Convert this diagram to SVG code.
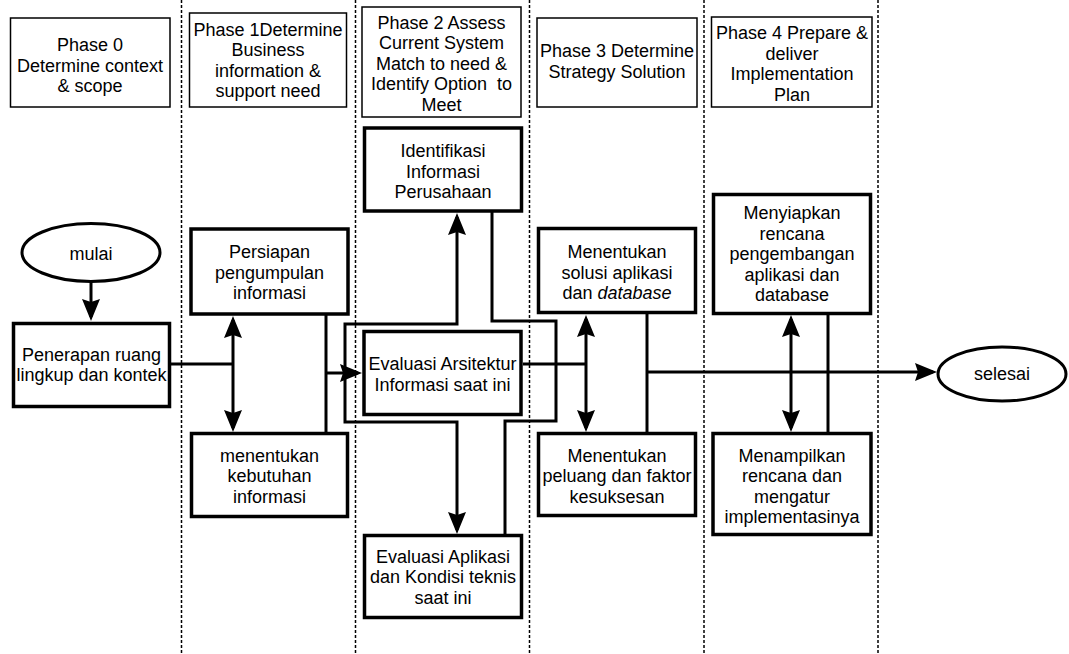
<svg xmlns="http://www.w3.org/2000/svg" width="1069" height="654" viewBox="0 0 1069 654">
<style>
.bg{fill:#fff}
.lane{stroke:#000;stroke-width:1.5;stroke-dasharray:3 2;fill:none}
.hdr{fill:#fff;stroke:#000;stroke-width:1.5}
.box{fill:#fff;stroke:#000;stroke-width:3.5}
.oval{fill:#fff;stroke:#000;stroke-width:3}
.c{fill:none;stroke:#000;stroke-width:3;stroke-linejoin:miter}
.a{marker-end:url(#ah)}
.d{marker-start:url(#ah);marker-end:url(#ah)}
text{font-family:"Liberation Sans",Arial,sans-serif;font-size:18px;fill:#000;text-anchor:middle}
</style>
<defs>
<marker id="ah" markerUnits="userSpaceOnUse" markerWidth="22" markerHeight="18" viewBox="0 0 22 18" refX="18" refY="9" orient="auto-start-reverse">
<path d="M0,0 L22,9 L0,18 L3,9 z" fill="#000"/>
</marker>
</defs>
<rect class="bg" x="0" y="0" width="1069" height="654"/>
<g id="lanes">
<line class="lane" x1="181.5" y1="0" x2="181.5" y2="654"/>
<line class="lane" x1="355.5" y1="0" x2="355.5" y2="654"/>
<line class="lane" x1="529.5" y1="0" x2="529.5" y2="654"/>
<line class="lane" x1="704" y1="0" x2="704" y2="654"/>
<line class="lane" x1="878" y1="0" x2="878" y2="654"/>
</g>
<g id="phase0"><rect class="hdr" x="10.5" y="18" width="159.5" height="89"/>
<text x="90" y="51">Phase 0</text><text x="90" y="71.5">Determine context</text><text x="90" y="92">&amp; scope</text></g>
<g id="phase1"><rect class="hdr" x="189.5" y="13" width="157" height="94"/>
<text x="268" y="35.5">Phase 1Determine</text><text x="268" y="56">Business</text><text x="268" y="76.5">information &amp;</text><text x="268" y="97">support need</text></g>
<g id="phase2"><rect class="hdr" x="362" y="7" width="159" height="110"/>
<text x="441.5" y="28.5">Phase 2 Assess</text><text x="441.5" y="49">Current System</text><text x="441.5" y="69.5">Match to need &amp;</text><text x="441.5" y="90" xml:space="preserve">Identify Option  to</text><text x="441.5" y="110.5">Meet</text></g>
<g id="phase3"><rect class="hdr" x="537" y="18" width="160" height="89"/>
<text x="617" y="57">Phase 3 Determine</text><text x="617" y="77.5">Strategy Solution</text></g>
<g id="phase4"><rect class="hdr" x="711.5" y="17" width="160.5" height="90"/>
<text x="792" y="39">Phase 4 Prepare &amp;</text><text x="792" y="59.5">deliver</text><text x="792" y="80">Implementation</text><text x="792" y="100.5">Plan</text></g>

<g id="connectors">
<path class="c a" d="M91,282 V317"/>
<path class="c" d="M170,364 H233"/>
<path class="c d" d="M233,320 V428"/>
<path class="c" d="M326,315 V433"/>
<path class="c a" d="M326,373 H358"/>
<path class="c a" d="M345,373 V324 H457 V217"/>
<path class="c a" d="M345,373 V422 H457 V530"/>
<path class="c" d="M492,212 V321 H556 V421 H505 V535"/>
<path class="c" d="M523,364 H586"/>
<path class="c d" d="M586,319 V428"/>
<path class="c" d="M647,314 V433"/>
<path class="c" d="M647,372 H828"/>
<path class="c d" d="M791,319 V428"/>
<path class="c" d="M828,314 V433"/>
<path class="c a" d="M828,372 H933"/>
</g>

<g id="mulai"><ellipse class="oval" cx="91" cy="252.5" rx="69" ry="29"/><text x="91" y="259.5">mulai</text></g>
<g id="penerapan"><rect class="box" x="13.5" y="323.5" width="156" height="83"/>
<text x="91.5" y="360.5">Penerapan ruang</text><text x="91.5" y="381">lingkup dan kontek</text></g>
<g id="persiapan"><rect class="box" x="191" y="229" width="157" height="85"/>
<text x="269.5" y="258">Persiapan</text><text x="269.5" y="278.5">pengumpulan</text><text x="269.5" y="299">informasi</text></g>
<g id="kebutuhan"><rect class="box" x="191.5" y="433.5" width="156" height="83"/>
<text x="269.5" y="461.5">menentukan</text><text x="269.5" y="482">kebutuhan</text><text x="269.5" y="502.5">informasi</text></g>
<g id="identifikasi"><rect class="box" x="364.5" y="128" width="157" height="83"/>
<text x="443" y="157">Identifikasi</text><text x="443" y="177.5">Informasi</text><text x="443" y="198">Perusahaan</text></g>
<g id="evaluasi-arsitektur"><rect class="box" x="364" y="331.5" width="157" height="83"/>
<text x="442.5" y="370">Evaluasi Arsitektur</text><text x="442.5" y="390.5">Informasi saat ini</text></g>
<g id="evaluasi-aplikasi"><rect class="box" x="364.5" y="535.5" width="157" height="82"/>
<text x="443" y="562.5">Evaluasi Aplikasi</text><text x="443" y="583">dan Kondisi teknis</text><text x="443" y="603.5">saat ini</text></g>
<g id="solusi"><rect class="box" x="538.5" y="228.5" width="157" height="84"/>
<text x="617" y="258">Menentukan</text><text x="617" y="278.5">solusi aplikasi</text><text x="617" y="299">dan <tspan font-style="italic">database</tspan></text></g>
<g id="peluang"><rect class="box" x="538.5" y="433.5" width="157" height="82"/>
<text x="617" y="461.5">Menentukan</text><text x="617" y="482">peluang dan faktor</text><text x="617" y="502.5">kesuksesan</text></g>
<g id="menyiapkan"><rect class="box" x="713.5" y="194.5" width="157" height="119"/>
<text x="792" y="219">Menyiapkan</text><text x="792" y="239.5">rencana</text><text x="792" y="260">pengembangan</text><text x="792" y="280.5">aplikasi dan</text><text x="792" y="301">database</text></g>
<g id="menampilkan"><rect class="box" x="713" y="433.5" width="158" height="101"/>
<text x="792" y="461.5">Menampilkan</text><text x="792" y="482">rencana dan</text><text x="792" y="502.5">mengatur</text><text x="792" y="523">implementasinya</text></g>
<g id="selesai"><ellipse class="oval" cx="1002" cy="374" rx="64" ry="27"/><text x="1002" y="380">selesai</text></g>
</svg>
